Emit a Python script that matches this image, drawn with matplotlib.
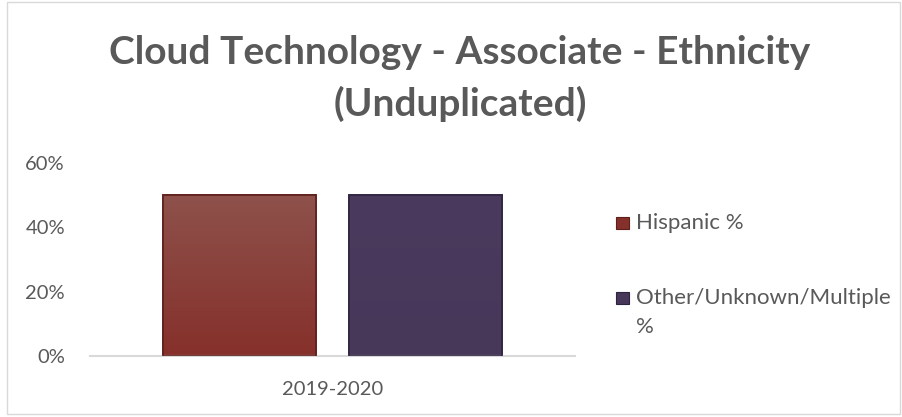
import numpy as np
import matplotlib.pyplot as plt
from matplotlib.patches import Rectangle
from matplotlib.colors import LinearSegmentedColormap

# data
categories = ['2019-2020']
series = ['Hispanic %', 'Other/Unknown/Multiple\n%']
values = [0.50, 0.50]
colors = ['#86302B', '#47385A']
tops = ['#8E514B', '#4A3B5E']
edges = ['#5E1F1B', '#2F2440']

plt.rcParams['font.family'] = ['Lato', 'DejaVu Sans']
W, H = 902, 417

fig = plt.figure(figsize=(9.02, 4.17), dpi=100)
ax = fig.add_axes([90/W, 1 - 356/H, 485/W, 193/H])

offsets = [-0.192, 0.191]
for i in range(len(series)):
    b = ax.bar(offsets[i], values[i], width=0.315, color=colors[i],
               edgecolor=edges[i], linewidth=1.2, zorder=2)
    # vertical shading like the original bevelled bars
    p = b[0]
    cmap = LinearSegmentedColormap.from_list('g', [colors[i], tops[i]])
    grad = np.linspace(0, 1, 100).reshape(-1, 1)
    im = ax.imshow(grad, cmap=cmap, aspect='auto', origin='lower', zorder=2.5,
                   extent=[p.get_x(), p.get_x() + p.get_width(), 0, p.get_height()])
    im.set_clip_path(p)
    ax.bar(offsets[i], values[i], width=0.315, fill=False,
           edgecolor=edges[i], linewidth=1.2, zorder=3)

ax.set_xlim(-0.5, 0.5)
ax.set_ylim(0, 0.6)
ax.set_yticks([0, 0.2, 0.4, 0.6])
ax.set_yticklabels(['0%', '20%', '40%', '60%'])
ax.set_xticks([0])
ax.set_xticklabels(categories)
ax.tick_params(length=0, labelsize=14.5, labelcolor='#595959')
ax.tick_params(axis='y', pad=18)
ax.tick_params(axis='x', pad=18)
for s in ['top', 'right', 'left']:
    ax.spines[s].set_visible(False)
ax.spines['bottom'].set_color('#D9D9D9')
ax.spines['bottom'].set_linewidth(1.5)

# title
fig.text(460/W, 1 - 52/H, 'Cloud Technology - Associate - Ethnicity',
         ha='center', va='center', fontsize=28, fontweight='bold', color='#595959')
fig.text(460/W, 1 - 104/H, '(Unduplicated)',
         ha='center', va='center', fontsize=28, fontweight='bold', color='#595959')

# legend drawn by hand so the wrapped label sits like the original
leg_rows = [223, 298]
for i in range(len(series)):
    y = leg_rows[i]
    fig.add_artist(Rectangle((616/W, 1 - (y + 6)/H), 13/W, 12/H,
                             transform=fig.transFigure, facecolor=colors[i],
                             edgecolor=edges[i], linewidth=0.8))
    lines = series[i].split('\n')
    for k, line in enumerate(lines):
        fig.text(636/W, 1 - (y + 29 * k)/H, line, ha='left', va='center',
                 fontsize=16, color='#595959')

fig.add_artist(Rectangle((7/W, 3/H), 893/W, 412/H, transform=fig.transFigure,
                         fill=False, edgecolor='#D9D9D9', linewidth=1))

fig.savefig('out.png', dpi=100)
